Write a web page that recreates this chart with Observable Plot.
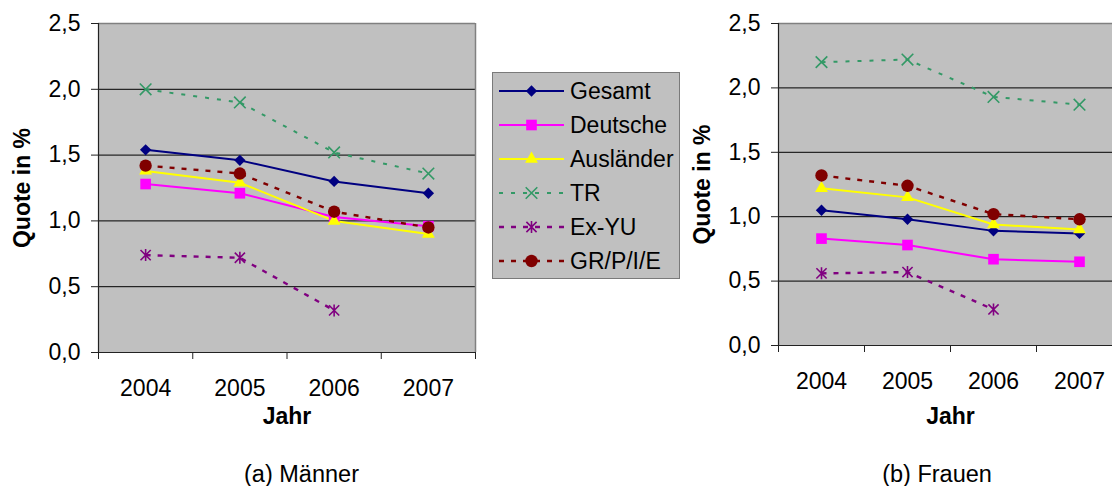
<!DOCTYPE html>
<html><head><meta charset="utf-8">
<script src="https://cdn.jsdelivr.net/npm/d3@7"></script>
<script src="https://cdn.jsdelivr.net/npm/@observablehq/plot@0.6"></script>
<style>
html,body{margin:0;padding:0;background:#fff;overflow:hidden;}
#root{position:relative;width:1112px;height:486px;overflow:hidden;font-family:"Liberation Sans",Arial,sans-serif;color:#000;}
.panel{position:absolute;top:0;}
.caption{position:absolute;font-size:23.5px;white-space:nowrap;transform:translateX(-50%);}
#legend{position:absolute;left:492px;top:72px;width:186px;height:204px;background:#C0C0C0;border:1px solid #7a7a7a;padding-top:1px;box-sizing:content-box;}
.lrow{height:34px;display:flex;align-items:center;font-size:23px;}
.lrow svg{flex:none;}
</style></head><body><div id="root"></div>
<script>
// ---- data ----
const years = [2004, 2005, 2006, 2007];
const yTicks = [0, 0.5, 1.0, 1.5, 2.0, 2.5];
const seriesNames = ["Gesamt", "Deutsche", "Ausländer", "TR", "Ex-YU", "GR/P/I/E"];
const seriesColors = ["#000080", "#FF00FF", "#FFFF00", "#339966", "#800080", "#800000"];
const seriesDash = [null, null, null, "4,8", "5,7", "5,7"];
const seriesWidth = [2, 2, 2, 2, 2.4, 2.4];
const seriesMarker = ["diamond", "square", "triangle", "times", "asterisk", "circle"];

// Männer
const mGesamt     = [1.54, 1.46, 1.30, 1.21];
const mDeutsche   = [1.28, 1.21, 1.03, 0.96];
const mAuslaender = [1.38, 1.29, 1.00, 0.90];
const mTR         = [2.00, 1.90, 1.52, 1.36];
const mExYU       = [0.74, 0.72, 0.32, null];
const mGRPIE      = [1.42, 1.36, 1.07, 0.95];
// Frauen
const fGesamt     = [1.05, 0.98, 0.89, 0.87];
const fDeutsche   = [0.83, 0.78, 0.67, 0.65];
const fAuslaender = [1.22, 1.15, 0.94, 0.90];
const fTR         = [2.20, 2.22, 1.93, 1.87];
const fExYU       = [0.56, 0.57, 0.28, null];
const fGRPIE      = [1.32, 1.24, 1.02, 0.98];

const maenner = [mGesamt, mDeutsche, mAuslaender, mTR, mExYU, mGRPIE];
const frauen  = [fGesamt, fDeutsche, fAuslaender, fTR, fExYU, fGRPIE];

// ---- symbols (Excel-like) ----
const symTimes = {draw(ctx, size) { const r = Math.sqrt(size / Math.PI);
  ctx.moveTo(-r, -r); ctx.lineTo(r, r); ctx.moveTo(-r, r); ctx.lineTo(r, -r); }};
const symAst = {draw(ctx, size) { const r = Math.sqrt(size / Math.PI); const a = r * 0.85;
  ctx.moveTo(-a, -a); ctx.lineTo(a, a); ctx.moveTo(-a, a); ctx.lineTo(a, -a);
  ctx.moveTo(0, -r); ctx.lineTo(0, r); }};
const markerSpec = {
  diamond:  {symbol: "diamond2", r: 5.1, filled: true},
  square:   {symbol: "square", r: 6.0, filled: true},
  triangle: {symbol: "triangle", r: 4.8, filled: true},
  times:    {symbol: symTimes, r: 5.8, filled: false},
  asterisk: {symbol: symAst, r: 6, filled: false},
  circle:   {symbol: "circle", r: 6.2, filled: true}
};

function tidy(values) {
  const rows = [];
  seriesNames.forEach((s, i) => years.forEach((yr, j) => {
    if (values[i][j] != null) rows.push({series: s, year: yr, value: values[i][j]});
  }));
  return rows;
}

const fmt = d => d.toFixed(1).replace(".", ",");

function panel(values, o) {
  const rows = tidy(values);
  const bounds = [years[0] - 0.5, ...years.map(y => y + 0.5)];
  const lines = seriesNames.map((s, i) => Plot.line(rows.filter(d => d.series === s), {
    x: "year", y: "value", stroke: seriesColors[i], strokeWidth: seriesWidth[i],
    strokeDasharray: seriesDash[i] || undefined, strokeLinecap: "butt"
  }));
  const dots = seriesNames.map((s, i) => {
    const m = markerSpec[seriesMarker[i]];
    return Plot.dot(rows.filter(d => d.series === s), {
      x: "year", y: "value", symbol: m.symbol, r: m.r,
      fill: m.filled ? seriesColors[i] : "none",
      stroke: m.filled ? "none" : seriesColors[i], strokeWidth: 1.6
    });
  });
  return Plot.plot({
    width: o.width, height: o.height,
    marginLeft: 98, marginRight: o.marginRight, marginTop: 23, marginBottom: o.marginBottom,
    style: {fontFamily: "'Liberation Sans', Arial, sans-serif", fontSize: "23px", background: "transparent", color: "#000", overflow: "visible"},
    x: {type: "linear", domain: [years[0] - 0.5, years[years.length - 1] + 0.5], axis: null},
    y: {domain: [yTicks[0], yTicks[yTicks.length - 1]], axis: null},
    marks: [
      Plot.frame({fill: "#C0C0C0", stroke: "none"}),
      Plot.ruleY(yTicks.slice(1, -1), {stroke: "#000", strokeWidth: 1}),
      Plot.ruleY([yTicks[yTicks.length - 1]], {stroke: "#808080", strokeWidth: 1.5}),
      Plot.ruleX([bounds[bounds.length - 1]], {stroke: "#808080", strokeWidth: 1.5}),
      Plot.ruleX([bounds[0]], {stroke: "#222", strokeWidth: 1.2}),
      Plot.ruleY([yTicks[0]], {stroke: "#222", strokeWidth: 1.2}),
      Plot.axisY(yTicks, {tickSize: 7, tickPadding: 11, tickFormat: fmt, label: null, stroke: "#222", fontSize: 23}),
      Plot.axisX(bounds, {tickSize: 7, tickFormat: () => "", label: null, stroke: "#222"}),
      Plot.axisX(years, {tickSize: 0, tickPadding: o.xPad, tickFormat: d => String(d), label: null, fontSize: 23}),
      Plot.text(["Jahr"], {text: d => d, frameAnchor: "bottom", textAnchor: "middle", lineAnchor: "top", dy: o.jahrDy, fontWeight: "bold", fontSize: 23}),
      Plot.text(["Quote in %"], {text: d => d, frameAnchor: "left", textAnchor: "middle", rotate: -90, lineAnchor: "top", dx: -85, fontWeight: "bold", fontSize: 23}),
      ...lines,
      ...dots
    ]
  });
}

const root = document.getElementById("root");

const left = panel(maenner, {width: 480, height: 430, marginRight: 5, marginBottom: 78, xPad: 27, jahrDy: 55});
left.classList.add("panel"); left.style.left = "0px";
root.appendChild(left);

const right = panel(frauen, {width: 442, height: 430, marginRight: 0, marginBottom: 85, xPad: 27, jahrDy: 62});
right.classList.add("panel"); right.style.left = "680px";
root.appendChild(right);

// legend
const legend = document.createElement("div");
legend.id = "legend";
seriesNames.forEach((s, i) => {
  const m = markerSpec[seriesMarker[i]];
  const row = document.createElement("div");
  row.className = "lrow";
  const w = 77, h = 34;
  const size = Math.PI * m.r * m.r;
  const symObj = typeof m.symbol === "string"
    ? {diamond2: d3.symbolDiamond2, square: d3.symbolSquare, triangle: d3.symbolTriangle, circle: d3.symbolCircle}[m.symbol]
    : m.symbol;
  const path = d3.symbol(symObj, size)();
  row.innerHTML = `<svg width="${w}" height="${h}">
    <line x1="6" x2="71" y1="${h/2}" y2="${h/2}" stroke="${seriesColors[i]}" stroke-width="${seriesWidth[i]}" ${seriesDash[i] ? `stroke-dasharray="${seriesDash[i]}"` : ""}/>
    <path transform="translate(38.5,${h/2})" d="${path}" fill="${m.filled ? seriesColors[i] : "none"}" stroke="${m.filled ? "none" : seriesColors[i]}" stroke-width="1.6"/>
  </svg><span>${s}</span>`;
  legend.appendChild(row);
});
root.appendChild(legend);

// captions
const capA = document.createElement("div");
capA.className = "caption"; capA.textContent = "(a) Männer";
capA.style.left = "301.5px"; capA.style.top = "461px";
root.appendChild(capA);
const capB = document.createElement("div");
capB.className = "caption"; capB.textContent = "(b) Frauen";
capB.style.left = "937px"; capB.style.top = "461px";
root.appendChild(capB);
</script>
</body></html>
